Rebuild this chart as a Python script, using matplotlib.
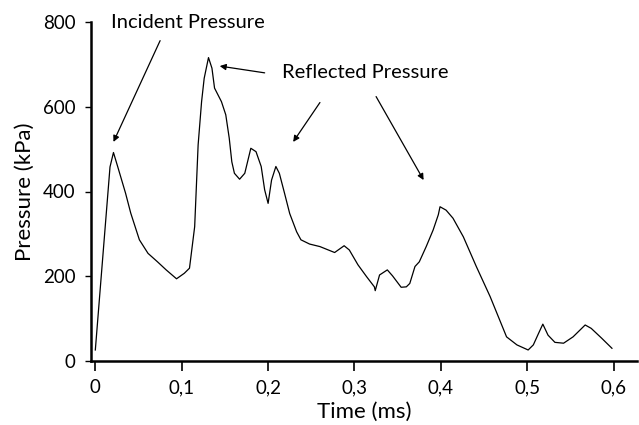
import matplotlib
matplotlib.use("Agg")
import matplotlib.pyplot as plt
import matplotlib.ticker as ticker

# values
time_ms = [0.000, 0.017, 0.021, 0.026, 0.035, 0.041, 0.051, 0.061, 0.072, 0.082,
           0.094, 0.103, 0.109, 0.115, 0.119, 0.123, 0.126, 0.131, 0.135, 0.138,
           0.146, 0.151, 0.155, 0.158, 0.161, 0.167, 0.173, 0.180, 0.186, 0.192,
           0.196, 0.200, 0.204, 0.209, 0.213, 0.219, 0.225, 0.233, 0.238, 0.248,
           0.260, 0.277, 0.288, 0.294, 0.304, 0.314, 0.323, 0.324, 0.329, 0.338,
           0.344, 0.354, 0.360, 0.364, 0.370, 0.375, 0.383, 0.391, 0.397, 0.399,
           0.406, 0.414, 0.426, 0.441, 0.457, 0.468, 0.476, 0.488, 0.501, 0.507,
           0.513, 0.518, 0.524, 0.532, 0.542, 0.553, 0.567, 0.574, 0.586, 0.598]
pressure_kpa = [26, 458, 492, 458, 396, 349, 286, 254, 234, 215,
                194, 207, 219, 317, 510, 612, 667, 716, 691, 644,
                612, 581, 526, 470, 443, 429, 443, 502, 494, 459,
                404, 372, 427, 459, 443, 396, 348, 305, 286, 276,
                270, 256, 272, 262, 227, 199, 175, 166, 203, 215,
                201, 174, 175, 183, 223, 234, 270, 309, 345, 364,
                356, 337, 293, 223, 152, 97, 57, 38, 26, 38,
                65, 87, 61, 44, 42, 57, 85, 77, 54, 30]

x_ticks = [0, 0.1, 0.2, 0.3, 0.4, 0.5, 0.6]
y_ticks = [0, 200, 400, 600, 800]

# (label, text position, [(tail, head), ...])
notes = [
    ("Incident Pressure", (0.107, 798), [((0.075, 756), (0.021, 517))]),
    ("Reflected Pressure", (0.312, 680), [((0.196, 680), (0.144, 696)),
                                          ((0.260, 610), (0.229, 517)),
                                          ((0.325, 624), (0.380, 427))]),
]

plt.rcParams["font.family"] = ["Lato", "DejaVu Sans"]

fig = plt.figure(figsize=(6.39, 4.25), dpi=100)
ax = fig.add_axes([91 / 639, 1 - 361 / 425, 546 / 639, 339 / 425])

ax.plot(time_ms, pressure_kpa, color="black", linewidth=0.9)

for label, pos, arrows in notes:
    ax.text(pos[0], pos[1], label, ha="center", va="center", fontsize=14.5)
    for tail, head in arrows:
        ax.annotate("", xy=head, xytext=tail,
                    arrowprops=dict(arrowstyle="-|>", color="black", lw=0.9,
                                    mutation_scale=9, shrinkA=0, shrinkB=0))

ax.set_xlim(-0.005, 0.627)
ax.set_ylim(0, 800)
ax.set_xticks(x_ticks)
ax.set_yticks(y_ticks)
ax.xaxis.set_major_formatter(ticker.FuncFormatter(lambda v, p: "{:g}".format(v).replace(".", ",")))

for side in ["top", "right"]:
    ax.spines[side].set_visible(False)
for side in ["left", "bottom"]:
    ax.spines[side].set_linewidth(1.8)

ax.tick_params(axis="x", direction="out", length=7, width=1.2, labelsize=13.5, pad=6)
ax.tick_params(axis="y", direction="out", length=4, width=1.0, labelsize=13.5, pad=7)

ax.set_xlabel("Time (ms)", fontsize=16, labelpad=4)
ax.set_ylabel("Pressure (kPa)", fontsize=16, labelpad=6)

fig.savefig("out.png", dpi=100)
